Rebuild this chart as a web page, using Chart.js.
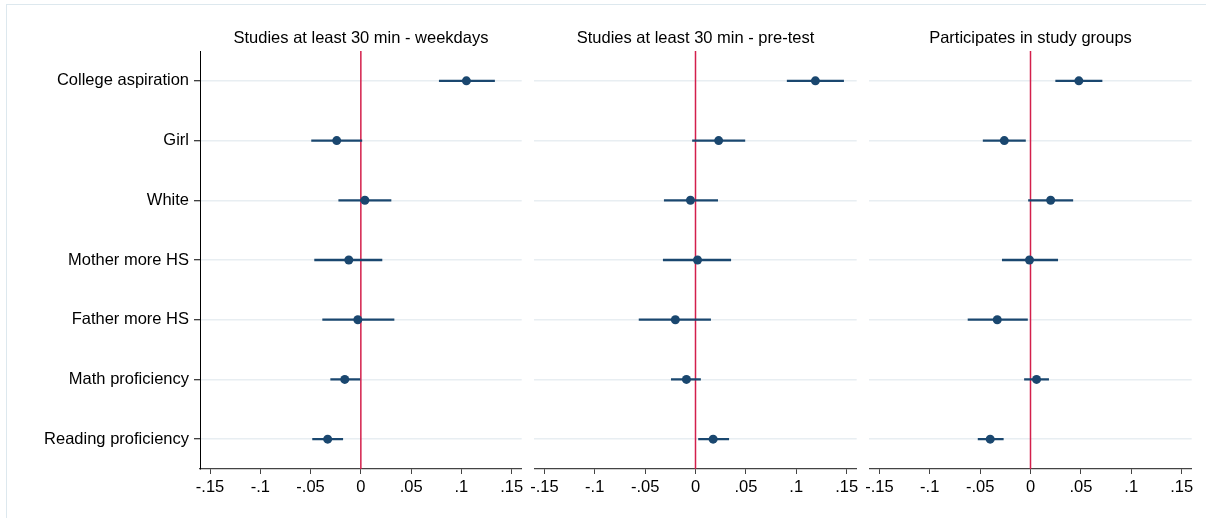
<!DOCTYPE html>
<html>
<head>
<meta charset="utf-8">
<script src="https://cdn.jsdelivr.net/npm/chart.js@4.4.1/dist/chart.umd.min.js"></script>
<style>
  html, body { margin: 0; padding: 0; background: #fff; }
  body { width: 1206px; height: 518px; position: relative; overflow: hidden; font-family: "Liberation Sans", Arial, sans-serif; }
  .frame { position: absolute; left: 6px; top: 4px; width: 1400px; height: 700px; border: 1px solid #dde8ee; box-sizing: border-box; }
  .panel { position: absolute; top: 0; }
  .ttl { position: absolute; top: 27px; height: 20px; line-height: 20px; font-size: 16.5px; color: #000; text-align: center; white-space: nowrap; }
</style>
</head>
<body>
<div class="frame"></div>
<canvas id="c1" class="panel" width="540" height="518" style="left:0px"></canvas>
<canvas id="c2" class="panel" width="350" height="518" style="left:522px"></canvas>
<canvas id="c3" class="panel" width="349" height="518" style="left:857px"></canvas>
<div class="ttl" id="t1" style="left:200px;width:322px"></div>
<div class="ttl" id="t2" style="left:534px;width:323px"></div>
<div class="ttl" id="t3" style="left:869px;width:323px"></div>
<script>
// ---- data ----
const categories = ['College aspiration', 'Girl', 'White', 'Mother more HS', 'Father more HS', 'Math proficiency', 'Reading proficiency'];
const panelTitles = ['Studies at least 30 min - weekdays', 'Studies at least 30 min - pre-test', 'Participates in study groups'];
const xTicks = [-0.15, -0.1, -0.05, 0, 0.05, 0.1, 0.15];
const refLine = 0;

const est1 = [0.105, -0.024, 0.004, -0.012, -0.003, -0.016, -0.033];
const lo1  = [0.078, -0.049, -0.022, -0.046, -0.038, -0.030, -0.048];
const hi1  = [0.133, 0.001, 0.030, 0.021, 0.033, -0.001, -0.018];

const est2 = [0.119, 0.023, -0.005, 0.002, -0.020, -0.009, 0.0175];
const lo2  = [0.091, -0.003, -0.031, -0.032, -0.056, -0.024, 0.003];
const hi2  = [0.147, 0.049, 0.022, 0.035, 0.015, 0.005, 0.033];

const est3 = [0.048, -0.026, 0.020, -0.001, -0.033, 0.006, -0.040];
const lo3  = [0.025, -0.047, -0.002, -0.028, -0.062, -0.006, -0.052];
const hi3  = [0.071, -0.005, 0.042, 0.027, -0.003, 0.018, -0.027];

// ---- styling ----
const NAVY = '#1a476f';
const RED = '#d31f4b';
const FONT = { family: '"Liberation Sans", Arial, sans-serif', size: 16.5 };

function fmt(v) {
  if (Math.abs(v) < 1e-9) return '0';
  return String(+v.toFixed(2)).replace('0.', '.');
}

const zeroLinePlugin = {
  id: 'zeroLine',
  beforeDatasetsDraw(chart) {
    const { ctx, chartArea, scales } = chart;
    const x = scales.x.getPixelForValue(refLine);
    ctx.save();
    ctx.strokeStyle = RED;
    ctx.lineWidth = 1.5;
    ctx.beginPath();
    ctx.moveTo(x, chartArea.top);
    ctx.lineTo(x, chartArea.bottom);
    ctx.stroke();
    ctx.restore();
  }
};

function makePanel(id, est, lo, hi, showY, padL, padR) {
  const ranges = lo.map((l, i) => [l, hi[i]]);
  new Chart(document.getElementById(id), {
    type: 'bar',
    data: {
      labels: categories,
      datasets: [
        {
          type: 'line',
          indexAxis: 'y',
          data: est,
          showLine: false,
          pointRadius: 4.5,
          pointHoverRadius: 4.5,
          pointBackgroundColor: NAVY,
          pointBorderColor: NAVY,
          pointBorderWidth: 0,
          order: 0
        },
        {
          type: 'bar',
          data: ranges,
          backgroundColor: NAVY,
          borderWidth: 0,
          barThickness: 1.6,
          order: 1
        }
      ]
    },
    options: {
      indexAxis: 'y',
      responsive: false,
      animation: false,
      devicePixelRatio: 1,
      layout: { padding: { top: 51, bottom: 0, left: padL, right: padR } },
      plugins: { legend: { display: false }, tooltip: { enabled: false }, title: { display: false } },
      scales: {
        x: {
          type: 'linear',
          min: -0.16,
          max: 0.16,
          afterBuildTicks: (s) => { s.ticks = xTicks.map(v => ({ value: v })); },
          afterFit: (s) => { s.height = 49; },
          ticks: { callback: (v) => fmt(v), font: FONT, color: '#000', padding: 4, maxRotation: 0, autoSkip: false },
          grid: { drawOnChartArea: false, drawTicks: true, tickLength: 5, tickColor: '#444', tickWidth: 1 },
          border: { display: true, color: '#444', width: 1.2 }
        },
        y: {
          type: 'category',
          offset: true,
          afterFit: (s) => { s.width = showY ? 200 : 0; },
          ticks: { display: showY, font: FONT, color: '#000', padding: 5 },
          grid: { offset: false, color: '#e8eef2', lineWidth: 1.5, drawTicks: showY, tickLength: 6, tickColor: '#000', tickWidth: 1 },
          border: { display: showY, color: '#000', width: 1 }
        }
      }
    },
    plugins: [zeroLinePlugin]
  });
}

makePanel('c1', est1, lo1, hi1, true, 0, 18.3);
makePanel('c2', est2, lo2, hi2, false, 12.3, 15.3);
makePanel('c3', est3, lo3, hi3, false, 12.3, 14.3);

document.getElementById('t1').textContent = panelTitles[0];
document.getElementById('t2').textContent = panelTitles[1];
document.getElementById('t3').textContent = panelTitles[2];
</script>
</body>
</html>
